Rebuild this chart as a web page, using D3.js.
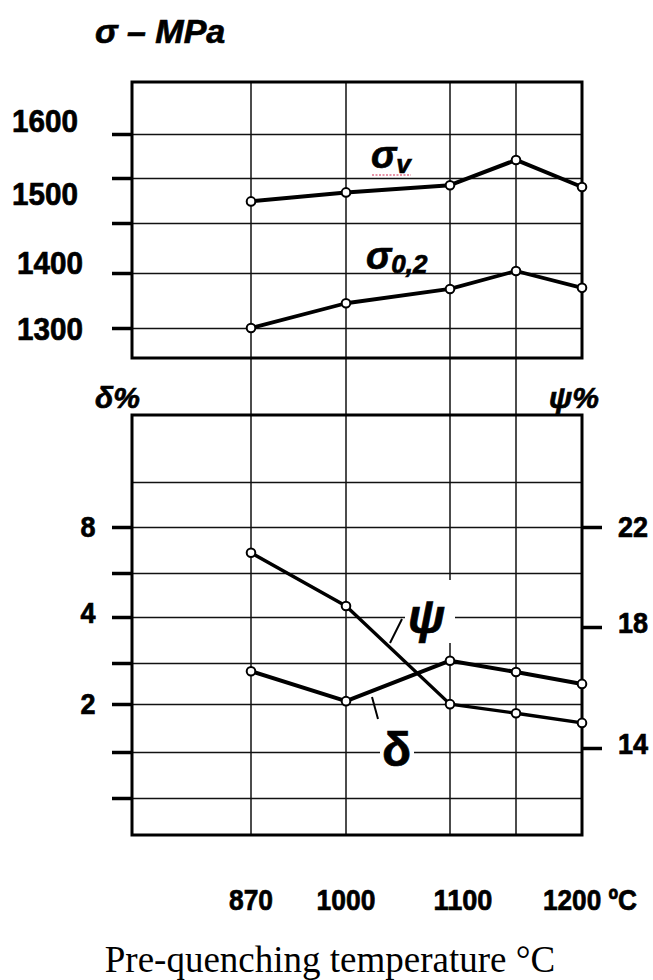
<!DOCTYPE html>
<html>
<head>
<meta charset="utf-8">
<script src="https://cdnjs.cloudflare.com/ajax/libs/d3/7.8.5/d3.min.js"></script>
<style>
  body { margin: 0; background: #fff; }
  .num { stroke: #000; stroke-width: 0.7px; }
</style>
</head>
<body>
<script>
//Width and height
var w = 653;
var h = 980;

//Pre-quenching temperatures (one gridline each)
var temps = [870, 1000, 1100, 1150, 1200];
var tempLabels = [870, 1000, 1100, 1200];

//Strength, MPa
var sigmaV = [1474, 1484, 1492, 1541, 1490];
var sigma02 = [1300, 1345, 1371, 1402, 1373];

//Elongation (left axis) and reduction of area (right axis), %
var delta = [2.8, 2.07, 3.05, 2.78, 2.49];
var psi = [20.97, 18.84, 15.45, 15.15, 14.83];

//Tick values
var sigmaTicks = [1300, 1400, 1450, 1500, 1600];
var sigmaLabels = [1300, 1400, 1500, 1600];
var deltaGrid = [0, 1, 2, 3, 4, 6, 8, 10];
var deltaTicks = [0, 1, 2, 3, 4, 6, 8];
var deltaLabels = [2, 4, 8];
var psiTicks = [14, 18, 22];

//Fonts
var numFont = "'Liberation Sans', Arial, sans-serif";
var symFont = "'Liberation Sans', Arial, sans-serif";

//Frame edges
var left = 132, right = 582;
var top1 = 82, bot1 = 358;   //strength panel
var top2 = 415, bot2 = 835;  //ductility panel

//Scales (the drawing is hand made, so they are piecewise)
var x = d3.scaleLinear().domain(temps).range([251, 346, 450, 516, 582]);
var ySigma = d3.scaleLinear().domain(sigmaTicks).range([328, 273, 223, 178, 134]);
var yDelta = d3.scaleLinear().domain(deltaGrid).range([798, 752, 704, 663, 617, 573, 527, 482]);
var yPsi = d3.scaleLinear().domain(psiTicks).range([748, 627, 527]);

//Create SVG element
var svg = d3.select("body")
            .append("svg")
            .attr("width", w)
            .attr("height", h);

svg.append("rect").attr("width", w).attr("height", h).attr("fill", "#fff");

//Vertical gridlines run through both panels
svg.append("g")
   .selectAll("line")
   .data(temps.slice(0, 4))
   .enter()
   .append("line")
   .attr("x1", function(d) { return x(d); })
   .attr("x2", function(d) { return x(d); })
   .attr("y1", top1)
   .attr("y2", bot2)
   .attr("stroke", "#111")
   .attr("stroke-width", 1.5);

//Horizontal gridlines
function grid(scale, values) {
    var g = svg.append("g")
        .attr("transform", "translate(" + left + ",0)")
        .call(d3.axisLeft(scale).tickValues(values).tickSize(-(right - left)).tickFormat(""));
    g.select(".domain").remove();
    g.selectAll("line").attr("stroke", "#111").attr("stroke-width", 1.5);
}
grid(ySigma, sigmaTicks);
grid(yDelta, deltaGrid);

//Text boxes of the curve names hide the grid behind them
svg.append("rect").attr("x", 405).attr("y", 580).attr("width", 50).attr("height", 63).attr("fill", "#fff");
svg.append("rect").attr("x", 380).attr("y", 724).attr("width", 34).attr("height", 48).attr("fill", "#fff");

//Panel frames
[[top1, bot1], [top2, bot2]].forEach(function(p) {
    svg.append("rect")
       .attr("x", left)
       .attr("y", p[0])
       .attr("width", right - left)
       .attr("height", p[1] - p[0])
       .attr("fill", "none")
       .attr("stroke", "#000")
       .attr("stroke-width", 3);
});

//Short heavy tick marks outside the frames
function ticks(axis, xpos, values) {
    var g = svg.append("g")
        .attr("transform", "translate(" + xpos + ",0)")
        .call(axis.tickValues(values).tickSize(20).tickSizeOuter(0).tickFormat(""));
    g.select(".domain").remove();
    g.selectAll("line").attr("stroke", "#000").attr("stroke-width", 3.5);
}
ticks(d3.axisLeft(ySigma), left, sigmaTicks);
ticks(d3.axisLeft(yDelta), left, deltaTicks);
ticks(d3.axisRight(yPsi), right, psiTicks);

//Tick labels (nudged like in the original drawing, squeezed like a condensed face)
var sigmaNudge = {1600: -14, 1500: 15, 1400: -11, 1300: 0};
svg.append("g")
   .selectAll("text")
   .data(sigmaLabels)
   .enter()
   .append("text")
   .attr("class", "num")
   .attr("x", function(d) { return d === 1600 || d === 1500 ? 45 : 50; })
   .attr("y", function(d) { return ySigma(d) + sigmaNudge[d] + 11.5; })
   .attr("text-anchor", "middle")
   .attr("textLength", 66)
   .attr("lengthAdjust", "spacingAndGlyphs")
   .style("font-family", numFont)
   .style("font-weight", "bold")
   .style("font-size", "32px")
   .text(function(d) { return d; });

svg.append("g")
   .selectAll("text")
   .data(deltaLabels)
   .enter()
   .append("text")
   .attr("class", "num")
   .attr("x", 88)
   .attr("y", function(d) { return yDelta(d) + (d === 4 ? -4 : 0) + 10; })
   .attr("text-anchor", "middle")
   .attr("textLength", 15)
   .attr("lengthAdjust", "spacingAndGlyphs")
   .style("font-family", numFont)
   .style("font-weight", "bold")
   .style("font-size", "29px")
   .text(function(d) { return d; });

svg.append("g")
   .selectAll("text")
   .data(psiTicks)
   .enter()
   .append("text")
   .attr("class", "num")
   .attr("x", 618)
   .attr("y", function(d) { return yPsi(d) + (d === 22 ? 0 : -4) + 10; })
   .attr("textLength", 30)
   .attr("lengthAdjust", "spacingAndGlyphs")
   .style("font-family", numFont)
   .style("font-weight", "bold")
   .style("font-size", "29px")
   .text(function(d) { return d; });

svg.append("g")
   .selectAll("text")
   .data(tempLabels)
   .enter()
   .append("text")
   .attr("class", "num")
   .attr("x", function(d) { return x(d) + (d === 1100 ? 13 : d === 1200 ? 8 : 0); })
   .attr("y", 910)
   .attr("text-anchor", "middle")
   .attr("textLength", function(d) { return d === 1200 ? 94 : String(d).length * 14.7; })
   .attr("lengthAdjust", "spacingAndGlyphs")
   .style("font-family", numFont)
   .style("font-weight", "bold")
   .style("font-size", "30px")
   .text(function(d) { return d === 1200 ? d + " \u00baC" : d; });

//Axis titles
function label(txt, xp, yp, size, style) {
    return svg.append("text")
        .attr("x", xp)
        .attr("y", yp)
        .style("font-family", symFont)
        .style("font-weight", "bold")
        .style("font-style", style || "italic")
        .style("font-size", size + "px")
        .text(txt);
}
label("\u03c3 \u2013 MPa", 95, 43, 34).attr("class", "num");
label("\u03b4%", 95, 408, 30).attr("class", "num");
label("\u03c8%", 549, 408, 30).attr("class", "num");

svg.append("text")
   .attr("x", 330)
   .attr("y", 972)
   .attr("text-anchor", "middle")
   .style("font-family", "'Liberation Serif', 'Times New Roman', serif")
   .style("font-size", "37px")
   .text("Pre-quenching temperature \u00b0C");

//Curves
function curve(values, scale, width) {
    var line = d3.line()
        .x(function(d, i) { return x(temps[i]); })
        .y(function(d) { return scale(d); });
    svg.append("path")
       .datum(values)
       .attr("d", line)
       .attr("fill", "none")
       .attr("stroke", "#000")
       .attr("stroke-width", width)
       .attr("stroke-linejoin", "round");
    svg.append("g")
       .selectAll("circle")
       .data(values)
       .enter()
       .append("circle")
       .attr("cx", function(d, i) { return x(temps[i]); })
       .attr("cy", function(d) { return scale(d); })
       .attr("r", 4.3)
       .attr("fill", "#fff")
       .attr("stroke", "#000")
       .attr("stroke-width", 2);
}
curve(sigmaV, ySigma, 4);
curve(sigma02, ySigma, 3.8);
curve(psi, yPsi, 3.4);
curve(delta, yDelta, 4);

//Curve names
var sv = label("\u03c3", 371, 168, 38).attr("class", "num");
sv.append("tspan").attr("dy", 5).style("font-size", "26px").text("v");
svg.append("line")
   .attr("x1", 372).attr("x2", 411)
   .attr("y1", 175).attr("y2", 175)
   .attr("stroke", "#e0708a")
   .attr("stroke-width", 1.3)
   .attr("stroke-dasharray", "2,1.5");

var s02 = label("\u03c3", 366, 269, 38).attr("class", "num");
s02.append("tspan").attr("dy", 4).style("font-size", "26px").text("0,2");

label("\u03c8", 408, 633, 48).attr("class", "num");
label("\u03b4", 382, 766, 48, "normal").attr("class", "num");

//Leader lines
svg.append("line").attr("x1", 402).attr("y1", 619).attr("x2", 390).attr("y2", 643)
   .attr("stroke", "#000").attr("stroke-width", 2);
svg.append("line").attr("x1", 372).attr("y1", 697).attr("x2", 378).attr("y2", 719)
   .attr("stroke", "#000").attr("stroke-width", 2);
</script>
</body>
</html>
